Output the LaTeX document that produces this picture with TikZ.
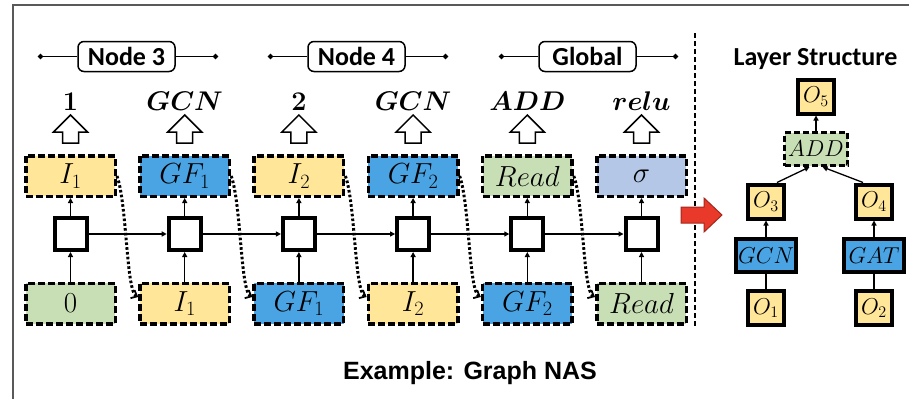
\documentclass[tikz,border=0pt]{standalone}
\usepackage{fix-cm}
\usepackage{fontspec}
\newfontfamily\calibfont{Carlito}
\newfontfamily\arialfont{Liberation Sans}
\usetikzlibrary{arrows.meta,calc}

\definecolor{yel}{HTML}{FFE699}
\definecolor{blu}{HTML}{4AA3E3}
\definecolor{grn}{HTML}{C8DFB6}
\definecolor{lav}{HTML}{B4C7E7}
\definecolor{redarrow}{HTML}{E8392A}
\definecolor{framegray}{HTML}{595959}

\begin{document}
\begin{tikzpicture}[x=1pt,y=-1pt,
  cell/.style={draw=black, line width=3.5pt, dash pattern=on 7pt off 3pt,
    minimum width=89.5pt, minimum height=40.5pt, inner sep=0pt,
    font=\fontsize{29}{31}\selectfont},
  ctrl/.style={draw=black, line width=4pt, fill=white, minimum size=32pt, inner sep=0pt},
  obox/.style={draw=black, line width=4pt, minimum width=36pt, minimum height=34pt,
    inner sep=0pt, font=\fontsize{23}{25}\selectfont},
  opbox/.style={obox, minimum width=60pt, minimum height=33pt},
  hdr/.style={draw=black, line width=1.5pt, rounded corners=6pt, fill=white,
    minimum width=97pt, minimum height=30pt, inner sep=0pt,
    font=\calibfont\bfseries\fontsize{26}{28}\selectfont},
  span/.style={line width=1.5pt, -{Circle[length=5pt]}},
  link/.style={line width=1.3pt, -{Triangle[length=5pt,width=5pt]}},
  plain/.style={line width=1.5pt},
  hop/.style={line width=3pt, dash pattern=on 2.6pt off 2.2pt,
    -{Straight Barb[length=5pt,width=9pt,line width=1.8pt]}},
  choice/.style={anchor=base, font=\fontsize{27}{29}\selectfont\boldmath},
  hollow/.style={draw=black, line width=1.5pt, fill=white}
]
\useasboundingbox (0,0) rectangle (909,399);

% frame
\draw[framegray, line width=2pt] (909,5) -- (13,5) -- (13,399);

% controller steps: sampled choice, output cell, controller, input cell
\foreach \ti/\tcol/\ttxt/\bcol/\btxt/\ltxt in {
    0/yel/{$I_1$}/grn/{$0$}/{$1$},
    1/blu/{$GF_1$}/yel/{$I_1$}/{$GCN$},
    2/yel/{$I_2$}/blu/{$GF_1$}/{$2$},
    3/blu/{$GF_2$}/yel/{$I_2$}/{$GCN$},
    4/grn/{$Read$}/blu/{$GF_2$}/{$ADD$},
    5/lav/{$\sigma$}/grn/{$Read$}/{$relu$}} {
  \pgfmathsetmacro{\cx}{70.5+114.2*\ti}
  \node[cell, fill=\tcol] (T\ti) at (\cx,176) {\ttxt};
  \node[cell, fill=\bcol] (B\ti) at (\cx,303.5) {\btxt};
  \node[ctrl] (S\ti) at (\cx,234) {};
  \node[choice] (L\ti) at (\cx,110) {\ltxt};
  % hollow block arrow pointing up to the choice
  \draw[hollow] (\cx,115) -- (\cx+17,132) -- (\cx+8,132) -- (\cx+8,143)
    -- (\cx-8,143) -- (\cx-8,132) -- (\cx-17,132) -- cycle;
}

\foreach \ti in {0,...,5} {
  \draw[link] (B\ti) -- (S\ti);
  \draw[link] (S\ti) -- (T\ti);
}
\foreach \ti/\tj in {0/1,1/2,2/3,3/4,4/5} {
  \draw[link] (S\ti) -- (S\tj);
  \draw[hop] (T\ti.east) .. controls +(10,28) and +(-12,-6) .. (B\tj.172);
}

% group headers
\node[hdr] (H1) at (126.5,56.5) {Node 3};
\node[hdr] (H2) at (356.5,56.5) {Node 4};
\node[hdr] (H3) at (587.5,56.5) {Global};
\coordinate (H1l) at (38,56.5);  \coordinate (H1r) at (218,56.5);
\coordinate (H2l) at (268,56.5); \coordinate (H2r) at (448,56.5);
\coordinate (H3l) at (499,56.5); \coordinate (H3r) at (678,56.5);
\foreach \h in {H1,H2,H3} {
  \draw[span] (\h.west) -- (\h l);
  \draw[span] (\h.east) -- (\h r);
}

% separator
\draw[line width=1.5pt, dash pattern=on 5pt off 3pt] (695,33) -- (695,327);

% transition arrow
\draw[draw=redarrow!70!black, line width=1pt, fill=redarrow]
  (681,207) -- (704,207) -- (704,198) -- (722,215) -- (704,232) -- (704,223)
  -- (681,223) -- cycle;

% resulting layer structure
\node[anchor=base, font=\calibfont\bfseries\fontsize{26}{28}\selectfont]
  (title) at (815.5,65) {Layer Structure};
\node[obox, fill=yel] (O5) at (816,96.5) {$O_5$};
\node[cell, fill=grn, minimum width=63pt, minimum height=33pt,
  line width=3pt, dash pattern=on 6pt off 3pt,
  font=\fontsize{23}{25}\selectfont] (ADD) at (816,149) {$ADD$};
\node[obox, fill=yel] (O3) at (766,201.5) {$O_3$};
\node[obox, fill=yel] (O4) at (874,201.5) {$O_4$};
\node[opbox, fill=blu] (GCN) at (766,255.5) {$GCN$};
\node[opbox, fill=blu] (GAT) at (874,255.5) {$GAT$};
\node[obox, fill=yel] (O1) at (766,308) {$O_1$};
\node[obox, fill=yel] (O2) at (874,308) {$O_2$};

\draw[plain] (O1) -- (GCN);
\draw[plain] (O2) -- (GAT);
\draw[link] (GCN) -- (O3);
\draw[link] (GAT) -- (O4);
\draw[link] (O3.60) -- (ADD.250);
\draw[link] (O4.120) -- (ADD.290);
\draw[link] (ADD) -- (O5);

% caption
\node[anchor=base, font=\arialfont\bfseries\fontsize{25}{28}\selectfont]
  (caption) at (470,379) {Example: Graph NAS};
\end{tikzpicture}
\end{document}
